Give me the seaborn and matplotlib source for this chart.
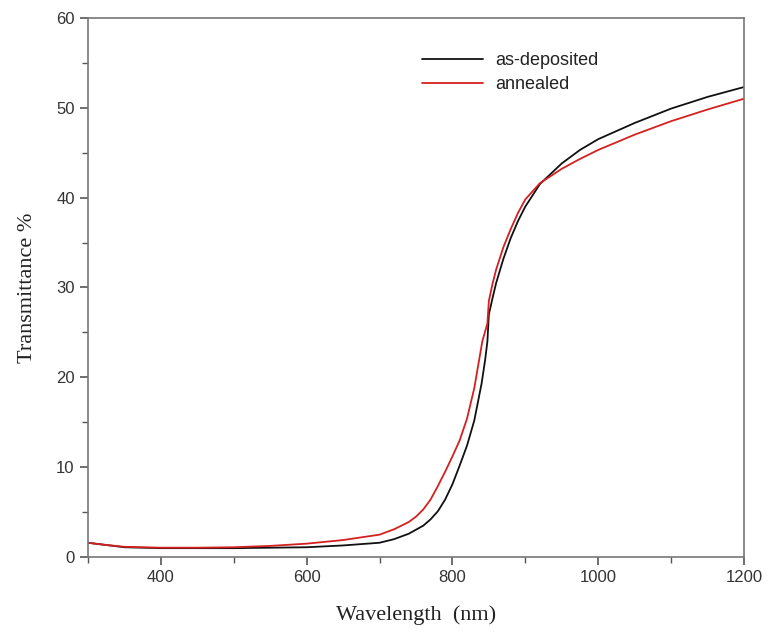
import matplotlib
matplotlib.use("Agg")
import matplotlib.pyplot as plt
import seaborn as sns
import pandas as pd
from matplotlib.ticker import MultipleLocator

wl_dep = [300, 320, 350, 400, 450, 500, 550, 600, 650, 700, 720, 740, 760, 770, 780, 790, 800, 810, 820, 830,
          840, 845, 848, 850, 855, 860, 870, 880, 890, 900, 920, 950, 975, 1000, 1050, 1100, 1150, 1200]
t_dep = [1.6, 1.4, 1.1, 1.0, 1.0, 1.0, 1.05, 1.1, 1.3, 1.6, 2.0, 2.6, 3.5, 4.2, 5.1, 6.4, 8.1, 10.2, 12.4, 15.2,
         19.3, 22.0, 24.0, 27.0, 28.8, 30.5, 33.2, 35.5, 37.4, 39.0, 41.5, 43.8, 45.3, 46.5, 48.3, 49.9, 51.2, 52.3]
wl_ann = [300, 320, 350, 400, 450, 500, 550, 600, 650, 700, 720, 740, 750, 760, 770, 780, 790, 800, 810, 820,
          830, 841, 848, 850, 855, 860, 870, 880, 890, 900, 920, 950, 975, 1000, 1050, 1100, 1150, 1200]
t_ann = [1.6, 1.4, 1.15, 1.05, 1.05, 1.1, 1.25, 1.5, 1.9, 2.5, 3.1, 3.9, 4.5, 5.3, 6.4, 7.9, 9.5, 11.2, 13.0, 15.4,
         18.8, 24.0, 26.0, 28.5, 30.4, 32.0, 34.5, 36.5, 38.3, 39.8, 41.6, 43.2, 44.3, 45.3, 47.0, 48.5, 49.8, 51.0]
series = ["as-deposited", "annealed"]
colors = ["#111111", "#d42020"]

df = pd.concat([
    pd.DataFrame({"wl": wl_dep, "T": t_dep, "sample": series[0]}),
    pd.DataFrame({"wl": wl_ann, "T": t_ann, "sample": series[1]}),
], ignore_index=True)

sns.set_style("ticks")
fig = plt.figure(figsize=(7.71, 6.36), dpi=100)
ax = fig.add_axes([0.114, 0.124, 0.851, 0.848])
sns.lineplot(data=df, x="wl", y="T", hue="sample", palette=dict(zip(series, colors)),
             linewidth=1.3, ax=ax, sort=False, estimator=None)

ax.set_xlim(300, 1200)
ax.set_ylim(0, 60)
ax.xaxis.set_major_locator(MultipleLocator(200))
ax.xaxis.set_minor_locator(MultipleLocator(100))
ax.yaxis.set_major_locator(MultipleLocator(10))
ax.yaxis.set_minor_locator(MultipleLocator(5))
ax.tick_params(which="major", direction="out", length=6, width=1.2, color="#555555",
               labelsize=12, labelcolor="#333333")
ax.tick_params(which="minor", direction="out", length=4, width=1.0, color="#555555")
for lab in ax.get_xticklabels() + ax.get_yticklabels():
    lab.set_family("Liberation Sans")
for s in ax.spines.values():
    s.set_color("#777777")
    s.set_linewidth(1.2)

ax.set_xlabel("Wavelength  (nm)", family="Liberation Serif", fontsize=16, color="#222222", labelpad=14)
ax.set_ylabel("Transmittance %", family="Liberation Serif", fontsize=16, color="#222222", labelpad=14)

leg = ax.legend(loc="upper left", bbox_to_anchor=(0.484, 0.967), frameon=False,
                prop={"family": "Liberation Sans", "size": 13}, handlelength=3.4,
                labelspacing=0.4, handletextpad=0.7)
for t in leg.get_texts():
    t.set_color("#222222")

fig.savefig("out.png", dpi=100)
